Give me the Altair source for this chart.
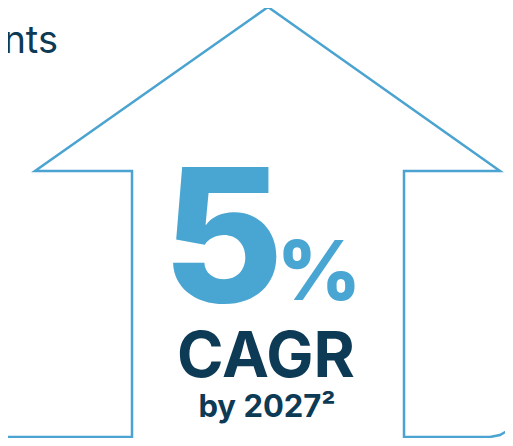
import altair as alt
import pandas as pd

# Outline of the arrow merged with the card's bottom border (reference pixel coords)
outline_x = [0, 132, 132, 35, 268, 500, 404, 404, 490, 500, 507, 511, 514, 516]
outline_y = [437, 437, 171, 171, 7, 171, 171, 437, 437, 435, 431, 426, 419, 411]

# Text labels
labels = ["nts", "5", "%", "CAGR", "by 2027²"]
label_x = [58, 223, 319, 266, 267]
label_y = [53, 302, 300, 377, 417]
label_size = [38, 186, 82, 63, 31]
label_color = ["#0d3a55", "#49a5d2", "#49a5d2", "#0d3a55", "#0d3a55"]
label_weight = [400, 800, 800, 700, 700]
label_align = ["right", "center", "center", "center", "center"]

W, H = 497, 430
xs = alt.Scale(domain=[8, 8 + W], range=[0, W])
ys = alt.Scale(domain=[8, 8 + H], range=[0, H])

outline = pd.DataFrame({"x": outline_x, "y": outline_y, "i": range(len(outline_x))})
line = alt.Chart(outline).mark_line(
    color="#4aa3d1", strokeWidth=2.5, strokeJoin="miter", strokeCap="butt", clip=True
).encode(
    x=alt.X("x:Q", scale=xs, axis=None),
    y=alt.Y("y:Q", scale=ys, axis=None),
    order="i:Q",
)

layers = [line]
for t, x, y, s, c, w, a in zip(labels, label_x, label_y, label_size, label_color, label_weight, label_align):
    df = pd.DataFrame({"x": [x], "y": [y], "t": [t]})
    layers.append(
        alt.Chart(df).mark_text(
            font="Inter", fontSize=s, color=c, fontWeight=w, align=a, baseline="alphabetic"
        ).encode(
            x=alt.X("x:Q", scale=xs, axis=None),
            y=alt.Y("y:Q", scale=ys, axis=None),
            text="t:N",
        )
    )

chart = alt.layer(*layers).properties(
    width=W, height=H, padding=0, autosize="none", background="white"
).configure_view(stroke=None)

chart.save("out.html", embed_options={"renderer": "svg", "actions": False})
